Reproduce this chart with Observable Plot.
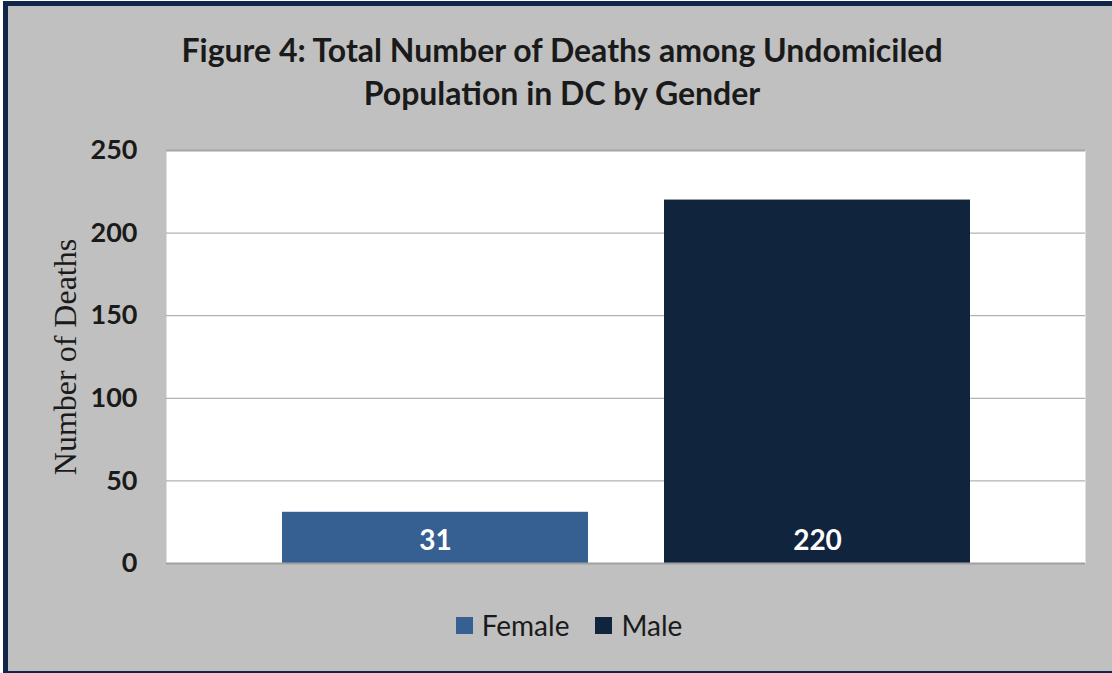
<!DOCTYPE html>
<html>
<head>
<meta charset="utf-8">
<script src="https://cdn.jsdelivr.net/npm/d3@7"></script>
<script src="https://cdn.jsdelivr.net/npm/@observablehq/plot@0.6"></script>
<style>
  html, body { margin: 0; padding: 0; background: #ffffff; width: 1112px; height: 673px; overflow: hidden; position: relative; }
  #frame { position: absolute; left: 3px; top: 1px; width: 1130px; height: 675px; box-sizing: border-box;
           background: #c0c0c0; border: 5px solid #12264a; }
  #title { position: absolute; left: 0; top: 28px; width: 1124px; text-align: center;
           font-family: Lato, "Open Sans", sans-serif; font-weight: bold; font-size: 32px; line-height: 43px; color: #1a1a1a; }
  #chart { position: absolute; left: 0; top: 130px; }
  #legend { position: absolute; left: 7px; top: 608px; width: 1124px; display: flex; justify-content: center; gap: 26px;
            font-family: Lato, "Open Sans", sans-serif; font-size: 28px; color: #1a1a1a; }
  .item { display: flex; align-items: center; gap: 9px; }
  .sw { width: 17px; height: 17px; display: inline-block; }
  g[aria-label="y-axis label"] text { font-family: "Liberation Serif", "Times New Roman", serif; font-size: 32px; font-weight: normal; fill: #1a1a1a; }
</style>
</head>
<body>
<div id="frame"></div>
<div id="title">Figure 4: Total Number of Deaths among Undomiciled<br>Population in DC by Gender</div>
<div id="chart"></div>
<div id="legend"></div>
<script>
const genders = ["Female", "Male"];
const deaths = [31, 220];
const colors = ["#366092", "#10243e"];
const yTicks = [0, 50, 100, 150, 200, 250];
const yLabel = "Number of Deaths";

const data = genders.map((g, i) => ({gender: g, deaths: deaths[i]}));

const chart = Plot.plot({
  width: 1112,
  height: 460,
  marginLeft: 166,
  marginRight: 27,
  marginTop: 20,
  marginBottom: 27,
  style: {background: "transparent", fontFamily: "Lato, 'Open Sans', sans-serif", color: "#1a1a1a"},
  x: {domain: genders, paddingInner: 0.2, paddingOuter: 0.3, axis: null},
  y: {domain: [0, 250], axis: null},
  color: {domain: genders, range: colors},
  marks: [
    Plot.frame({fill: "white", stroke: null}),
    Plot.gridY(yTicks.slice(1, -1), {stroke: "#a0a0a0", strokeOpacity: 1, strokeWidth: 1}),
    Plot.ruleY([250], {stroke: "#a6a6a6", strokeWidth: 2}),
    Plot.barY(data, {x: "gender", y: "deaths", fill: "gender"}),
    Plot.ruleY([0], {stroke: "#a0a0a0", strokeWidth: 2}),
    Plot.text(data, {x: "gender", y: 0, text: d => String(d.deaths), dy: -22, fill: "white", fontWeight: "bold", fontSize: 28}),
    Plot.axisY(yTicks, {tickSize: 0, tickPadding: 29, fontSize: 27, fontWeight: "bold",
      label: yLabel, labelAnchor: "center", labelArrow: "none", labelOffset: 113})
  ]
});
document.getElementById("chart").appendChild(chart);

const legend = document.getElementById("legend");
genders.forEach((g, i) => {
  const item = document.createElement("div");
  item.className = "item";
  const sw = document.createElement("span");
  sw.className = "sw";
  sw.style.background = colors[i];
  const t = document.createElement("span");
  t.textContent = g;
  item.appendChild(sw);
  item.appendChild(t);
  legend.appendChild(item);
});
</script>
</body>
</html>
